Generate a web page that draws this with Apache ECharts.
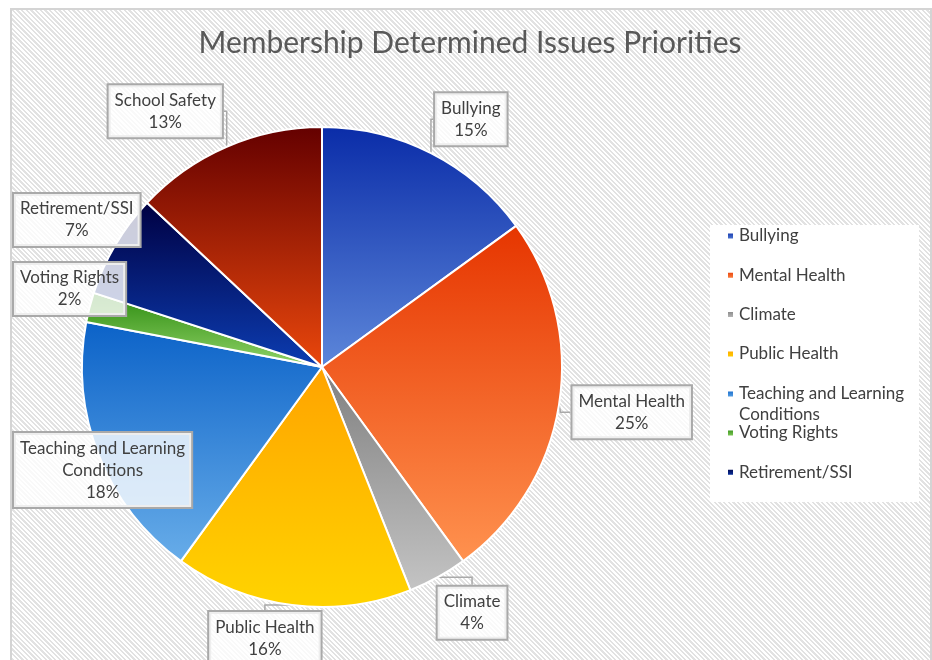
<!DOCTYPE html>
<html>
<head>
<meta charset="utf-8">
<title>Membership Determined Issues Priorities</title>
<script src="https://cdn.jsdelivr.net/npm/echarts@6/dist/echarts.min.js"></script>
<style>
  html, body {
    margin: 0;
    padding: 0;
    background: #fff;
    overflow: hidden;
  }
  .frame {
    position: absolute;
    left: 10px;
    top: 8px;
    width: 918px;
    height: 680px;
    border: 2px solid #d4d4d4;
    background: repeating-linear-gradient(45deg, #ffffff 0, #ffffff 1.7px, #e2e2e2 1.7px, #e2e2e2 3.3px);
  }
  .chart-container {
    position: absolute;
    left: 0;
    top: 0;
    width: 932px;
    height: 660px;
  }
</style>
</head>
<body>
<div class="frame"></div>
<div id="chart" class="chart-container"></div>
<script>
// data
const categories = ['Bullying', 'Mental Health', 'Climate', 'Public Health',
  'Teaching and Learning Conditions', 'Voting Rights', 'Retirement/SSI', 'School Safety']
const percents = [15, 25, 4, 16, 18, 2, 7, 13]

// slice gradients, top colour -> bottom colour
const topColors = ['#0a2ca8', '#e63500', '#7f7f7f', '#ffa300', '#0b62c8', '#2b8a0f', '#000042', '#640000']
const bottomColors = ['#5d87da', '#ff924f', '#c4c4c4', '#ffd400', '#68ade9', '#92d468', '#0c3db2', '#ea470c']

// callout placement: [angle shift from slice middle (deg), distance from centre (px)]
const calloutPos = [[4, 289], [-0.7, 313], [-2.6, 288], [4.7, 277], [0, 280], [0, 314], [0, 289], [-8.1, 300]]
const calloutLine = [true, true, true, true, false, false, false, true]

const pieCenter = [322, 367]
const pieRadius = 240
const textColor = '#404040'
const fontFamily = 'Lato, "Open Sans", sans-serif'

const total = percents.reduce((a, b) => a + b, 0)

const gradient = (i) => new echarts.graphic.LinearGradient(0, 0, 0, 1, [
  { offset: 0, color: topColors[i] },
  { offset: 1, color: bottomColors[i] }
])

const pieData = categories.map((name, i) => ({
  name: name,
  value: percents[i],
  itemStyle: { color: gradient(i) },
  labelLine: { show: calloutLine[i] }
}))

const calloutLayout = (params) => {
  const i = params.dataIndex
  let acc = 0
  for (let k = 0; k < i; k++) acc += percents[k]
  const mid = ((acc + percents[i] / 2) / total * 360 + calloutPos[i][0]) * Math.PI / 180
  const d = calloutPos[i][1]
  let x = pieCenter[0] + d * Math.sin(mid)
  const y = pieCenter[1] - d * Math.cos(mid)
  const w = params.labelRect.width
  x = Math.max(x, 12 + w / 2)
  return { x: x, y: y, align: 'center', verticalAlign: 'middle' }
}

const legendText = {
  color: textColor,
  fontFamily: fontFamily,
  fontSize: 17,
  lineHeight: 20
}

const legendBase = {
  orient: 'vertical',
  left: 726,
  padding: 0,
  itemWidth: 7,
  itemHeight: 7,
  itemGap: 19.3,
  icon: 'rect',
  selectedMode: false,
  textStyle: legendText
}

const chart = echarts.init(document.getElementById('chart'))

const option = {
  backgroundColor: 'transparent',
  animation: false,
  title: {
    text: 'Membership Determined Issues Priorities',
    left: 470,
    top: 28,
    padding: 0,
    textAlign: 'center',
    textStyle: {
      color: '#595959',
      fontFamily: fontFamily,
      fontSize: 30,
      fontWeight: 'normal'
    }
  },
  graphic: [
    {
      type: 'rect',
      z: 1,
      shape: { x: 710, y: 225, width: 209, height: 277 },
      style: { fill: '#ffffff' }
    }
  ],
  legend: [
    Object.assign({}, legendBase, {
      top: 226,
      data: categories.slice(0, 4)
    }),
    Object.assign({}, legendBase, {
      top: 362.5,
      data: [categories[4]],
      textStyle: Object.assign({}, legendText, { lineHeight: 21 }),
      formatter: () => '\nTeaching and Learning\nConditions'
    }),
    Object.assign({}, legendBase, {
      top: 423,
      data: categories.slice(5, 7)
    })
  ],
  series: [
    {
      type: 'pie',
      center: pieCenter,
      radius: pieRadius,
      startAngle: 90,
      clockwise: true,
      avoidLabelOverlap: false,
      itemStyle: {
        borderColor: '#ffffff',
        borderWidth: 2
      },
      label: {
        show: true,
        position: 'outside',
        formatter: (p) => p.name.replace(' Conditions', '\nConditions') + '\n' + p.value + '%',
        color: textColor,
        fontFamily: fontFamily,
        fontSize: 17,
        lineHeight: 22,
        align: 'center',
        backgroundColor: 'rgba(255, 255, 255, 0.8)',
        borderColor: '#a9a9a9',
        borderWidth: 2,
        padding: [4, 6]
      },
      labelLine: {
        length: 10,
        length2: 10,
        lineStyle: {
          color: '#a9a9a9',
          width: 1.5
        }
      },
      labelLayout: calloutLayout,
      emphasis: { disabled: true },
      data: pieData
    }
  ]
}

chart.setOption(option)
</script>
</body>
</html>
